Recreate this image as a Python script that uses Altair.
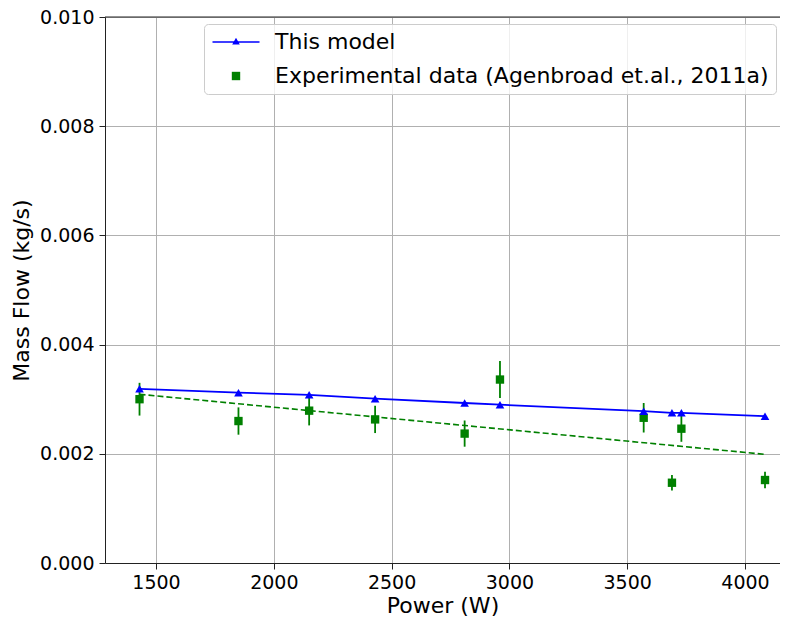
import altair as alt
import pandas as pd

# ---- data ----
power = [1430, 1850, 2150, 2430, 2810, 2960, 3570, 3690, 3730, 4085]
model_flow = [0.00319, 0.00312, 0.00308, 0.00301, 0.00293, 0.00290, 0.00278, 0.00275, 0.00275, 0.00269]
exp_flow = [0.00300, 0.00260, 0.00279, 0.00263, 0.00237, 0.00336, 0.00266, 0.00147, 0.00246, 0.00152]
exp_err = [0.00030, 0.00025, 0.00027, 0.00025, 0.00024, 0.00034, 0.00027, 0.00014, 0.00024, 0.00015]
trend_power = [1430, 4085]
trend_flow = [0.00309, 0.00199]
series_names = ["This model", "Experimental data (Agenbroad et.al., 2011a)"]
x_ticks = [1500, 2000, 2500, 3000, 3500, 4000]
y_ticks = [0.0, 0.002, 0.004, 0.006, 0.008, 0.010]

df_model = pd.DataFrame({"power": power, "flow": model_flow})
df_exp = pd.DataFrame({
    "power": power,
    "flow": exp_flow,
    "lo": [v - e for v, e in zip(exp_flow, exp_err)],
    "hi": [v + e for v, e in zip(exp_flow, exp_err)],
})
df_trend = pd.DataFrame({"power": trend_power, "flow": trend_flow})
df_leg = pd.DataFrame({"series": series_names, "power": [2000, 2000], "flow": [0.005, 0.005]})

FONT = "DejaVu Sans"
BLUE = "#0000ff"
GREEN = "#008000"
W, H = 675, 546

xscale = alt.Scale(domain=[1283.5, 4148.6], nice=False, zero=False)
yscale = alt.Scale(domain=[0, 0.010], nice=False, zero=False)

def xenc():
    return alt.X("power:Q", scale=xscale, title="Power (W)",
                 axis=alt.Axis(values=x_ticks, format="d", title="Power (W)", titlePadding=3))

def yenc(field="flow"):
    return alt.Y(f"{field}:Q", scale=yscale, title="Mass Flow (kg/s)",
                 axis=alt.Axis(values=y_ticks, format=".3f", title="Mass Flow (kg/s)", titlePadding=6))

model_line = alt.Chart(df_model).mark_line(color=BLUE, strokeWidth=1.8).encode(x=xenc(), y=yenc())
model_pts = alt.Chart(df_model).mark_point(shape="triangle-up", filled=True, color=BLUE,
                                           size=75, opacity=1).encode(x=xenc(), y=yenc())
trend = alt.Chart(df_trend).mark_line(color=GREEN, strokeWidth=1.6, strokeDash=[6, 3]).encode(
    x=xenc(), y=yenc())
err = alt.Chart(df_exp).mark_rule(color=GREEN, strokeWidth=1.8).encode(
    x=xenc(), y=yenc("lo"), y2="hi:Q")
exp_pts = alt.Chart(df_exp).mark_square(color=GREEN, size=70, opacity=1).encode(x=xenc(), y=yenc())

line_tri = ("M-2.35,-0.08H2.35V0.08H-2.35Z "
            "M0,-0.42L0.38,0.26H-0.38Z")
square = "M-0.42,-0.42H0.42V0.42H-0.42Z"

leg_props = dict(title=None, orient="none", legendX=99, legendY=7, padding=7,
                 symbolOffset=14, labelOffset=28, rowPadding=12, symbolSize=400,
                 symbolStrokeWidth=0, labelFontSize=22, labelFont=FONT, labelColor="black",
                 labelLimit=1000, fillColor="rgba(255,255,255,0.8)", strokeColor="#cccccc",
                 cornerRadius=4)

legend_layer = alt.Chart(df_leg).mark_point(filled=True, opacity=1).encode(
    x=xenc(), y=yenc(),
    color=alt.Color("series:N", sort=series_names,
                    scale=alt.Scale(domain=series_names, range=[BLUE, GREEN]),
                    legend=alt.Legend(**leg_props)),
    shape=alt.Shape("series:N", sort=series_names,
                    scale=alt.Scale(domain=series_names, range=[line_tri, square]),
                    legend=alt.Legend(**leg_props)),
).transform_filter("false")

top_border = alt.Chart(pd.DataFrame({"k": [0]})).mark_rule(color="#222222", strokeWidth=1).encode(
    x=alt.value(0), x2=alt.value(W), y=alt.value(0))

chart = alt.layer(
    model_line, trend, err, exp_pts, model_pts, top_border, legend_layer
).properties(
    width=W, height=H,
    autosize=alt.AutoSizeParams(type="none"),
    padding={"left": 97, "top": 9, "right": 0, "bottom": 58},
).configure_view(stroke=None).configure_axis(
    labelFont=FONT, titleFont=FONT, labelFontSize=19, titleFontSize=22,
    titleFontWeight="normal", labelColor="black", titleColor="black",
    domainColor="#222222", domainWidth=1, tickColor="#222222", tickWidth=1, tickSize=6,
    labelPadding=4, grid=True, gridColor="#b0b0b0", gridWidth=1,
).configure_axisY(labelPadding=5)

chart.save("out.html", embed_options={"renderer": "svg", "actions": False})
